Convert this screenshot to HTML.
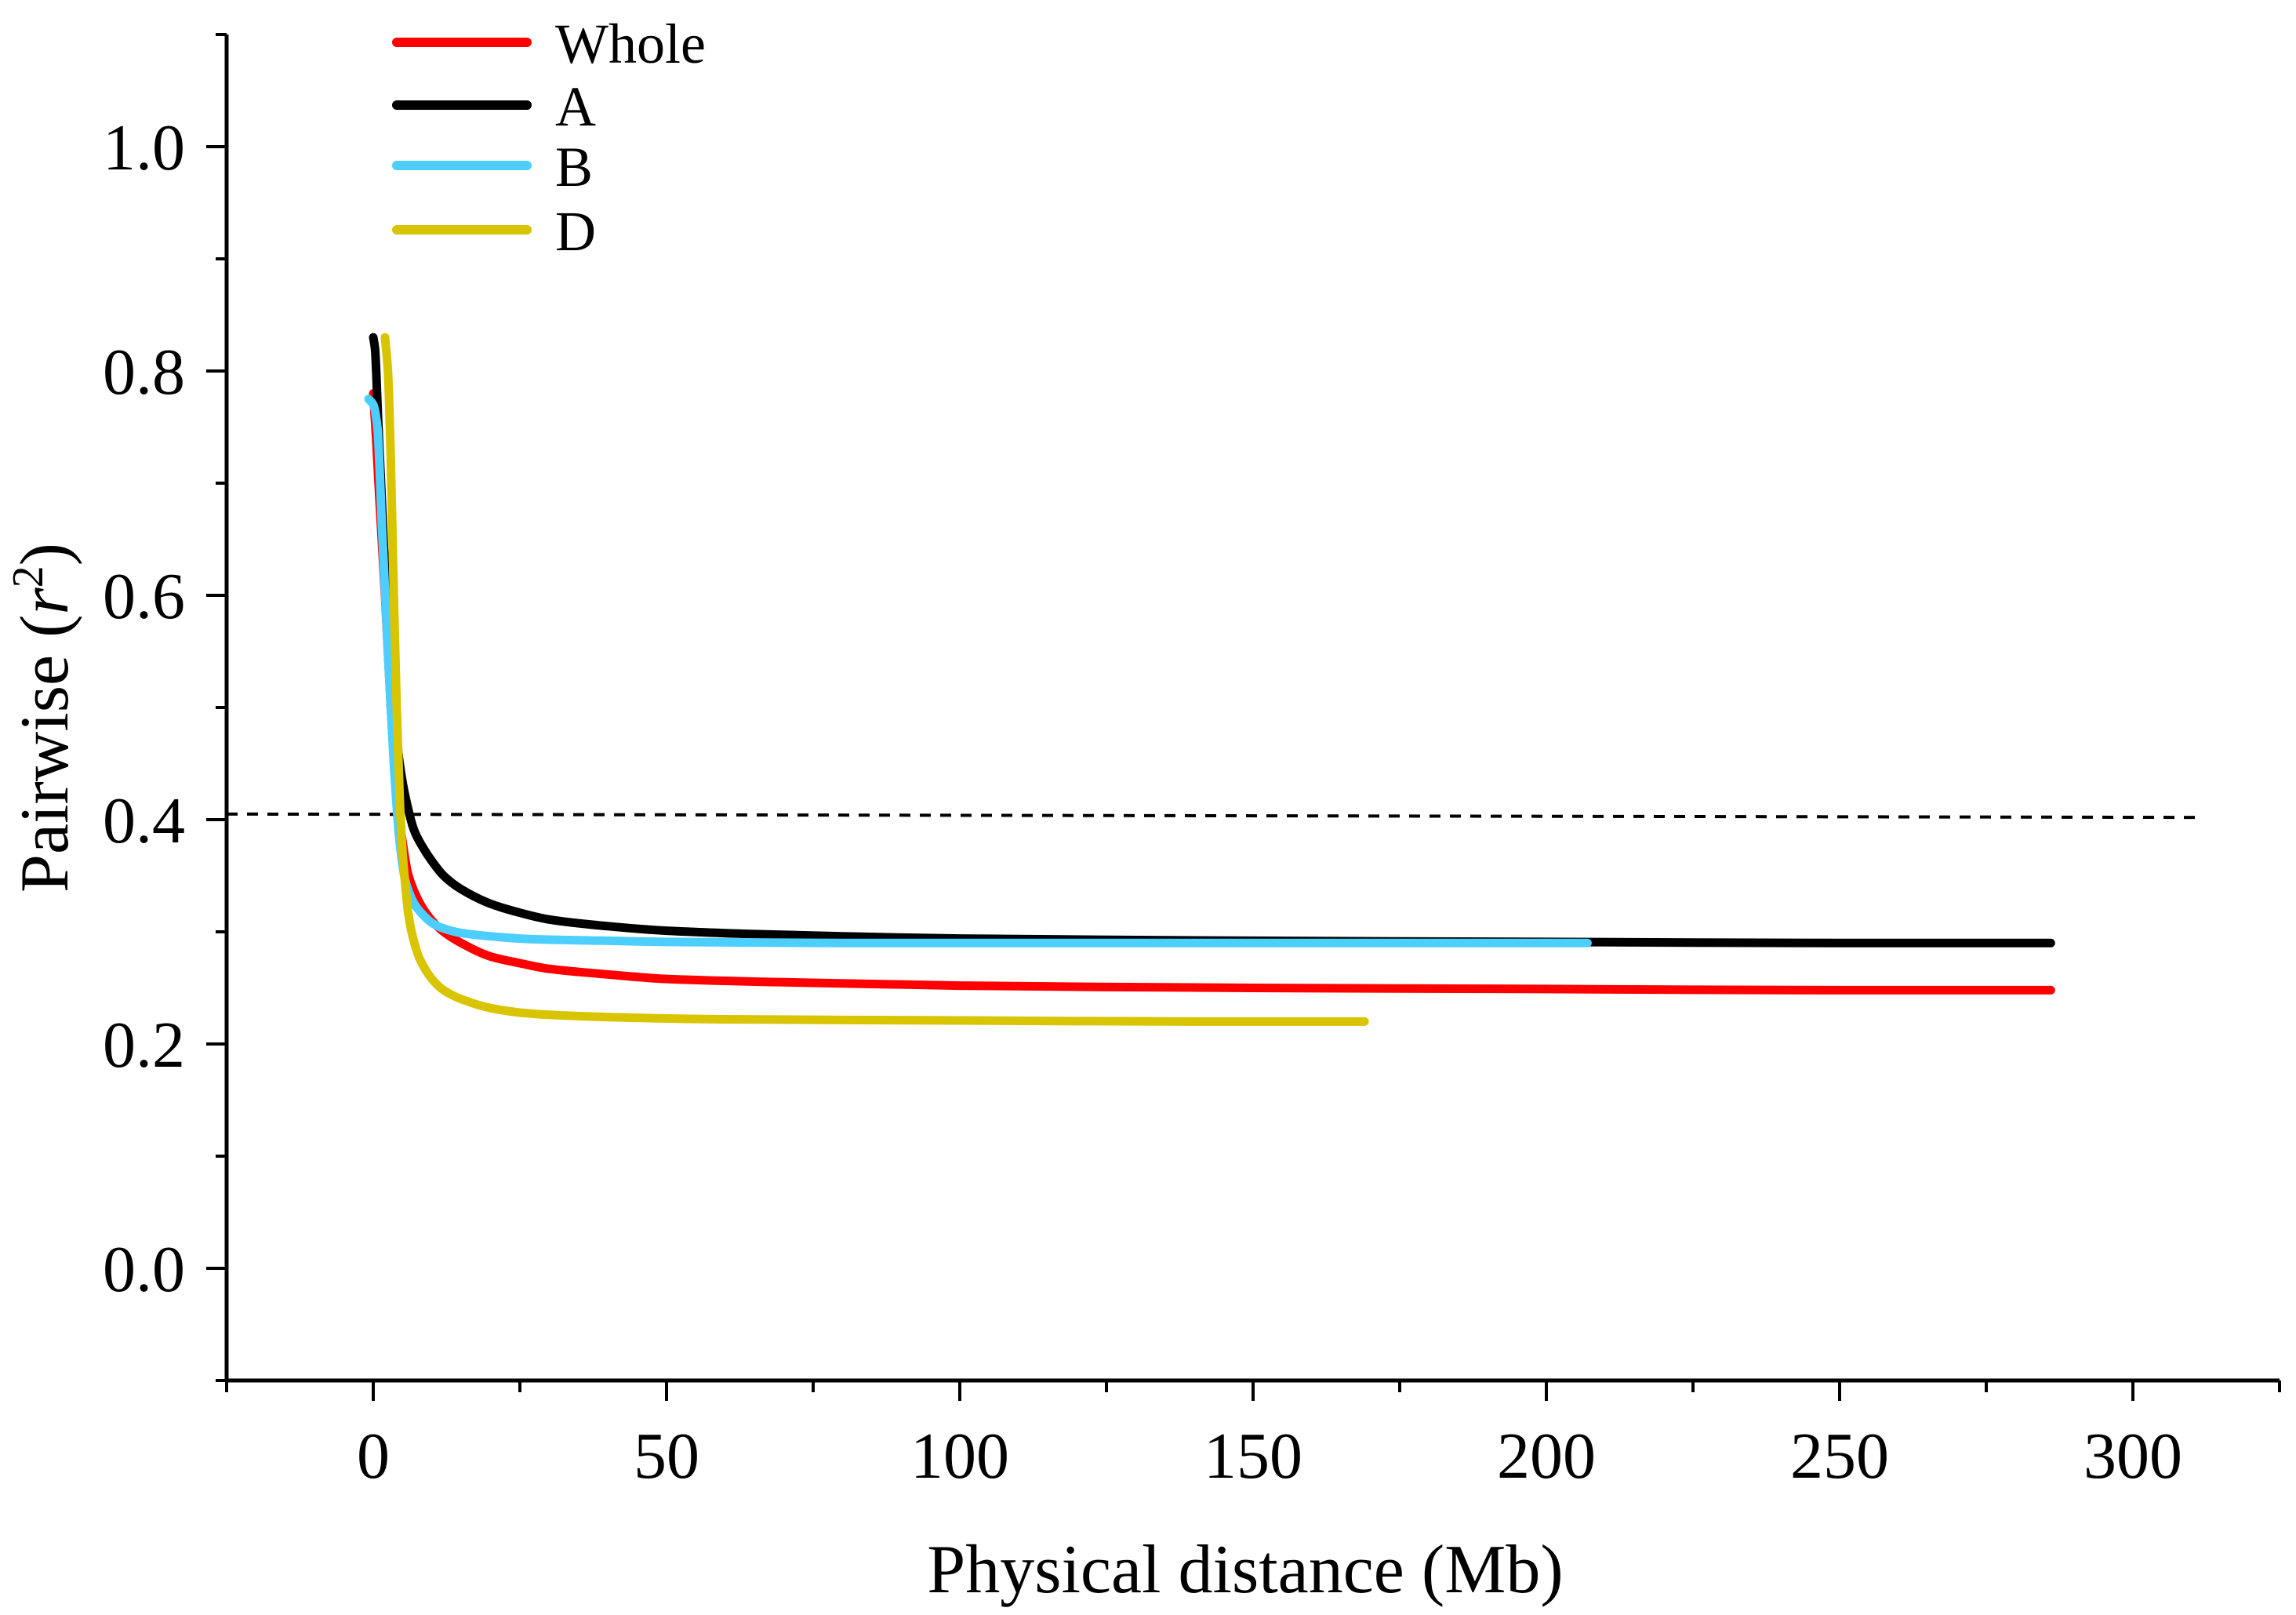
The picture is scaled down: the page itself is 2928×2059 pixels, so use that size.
<!DOCTYPE html>
<html><head><meta charset="utf-8"><style>
html,body{margin:0;padding:0;background:#fff}
svg{display:block}
text{font-family:"Liberation Serif",serif;fill:#000}
</style></head><body>
<svg id="chart" width="2928" height="2059" viewBox="0 0 2928 2059" xmlns="http://www.w3.org/2000/svg">
<g id="axes"></g>
<g id="series"></g>
<g id="legend"></g>
</svg>
<script>
const xTicks=[0,50,100,150,200,250,300];
const yTicks=[0.0,0.2,0.4,0.6,0.8,1.0];
const yTickLabels=["0.0","0.2","0.4","0.6","0.8","1.0"];
const thresholdStart=0.405;
const thresholdEnd=0.402;
const wholeX=[0,0.5,1,2,3,4,5,6,8,10,12,15,20,25,30,40,50,70,100,150,200,250,286];
const wholeY=[0.78,0.74,0.69,0.6,0.5,0.42,0.38,0.35,0.325,0.31,0.3,0.29,0.278,0.272,0.267,0.262,0.258,0.255,0.252,0.25,0.249,0.248,0.248];
const aX=[0,0.3,0.8,1.5,2.5,3.5,4.5,5.5,7,8.5,10,12,15,20,25,30,40,50,65,80,100,150,200,250,286];
const aY=[0.83,0.82,0.76,0.68,0.57,0.5,0.45,0.42,0.39,0.375,0.363,0.35,0.338,0.325,0.317,0.311,0.305,0.301,0.298,0.296,0.294,0.292,0.291,0.29,0.29];
const bX=[-0.8,0,0.7,1.5,2.5,3.5,4.5,5.5,7,8.5,10,12,15,20,25,30,40,50,80,120,160,207];
const bY=[0.775,0.77,0.75,0.66,0.55,0.45,0.38,0.345,0.325,0.315,0.308,0.303,0.299,0.296,0.294,0.293,0.292,0.291,0.29,0.29,0.29,0.29];
const dX=[2,2.5,3,3.5,4,4.5,5,5.5,6,7,8,10,12,15,20,25,30,40,60,100,140,169];
const dY=[0.83,0.8,0.72,0.6,0.5,0.42,0.37,0.34,0.315,0.29,0.275,0.258,0.248,0.24,0.232,0.228,0.226,0.224,0.222,0.221,0.22,0.22];
const seriesNames=["Whole","A","B","D"];
const seriesColors=["#ff0000","#000000","#4ccfff","#d9c400"];

const NS="http://www.w3.org/2000/svg";
const X=m=>476+7.48*m;
const Y=v=>1617-1430*v;
function mk(tag,parent,attrs){const e=document.createElementNS(NS,tag);for(const k in attrs)e.setAttribute(k,attrs[k]);parent.appendChild(e);return e;}
function monoPath(px,py){
  const n=px.length;const d=[],m=new Array(n);
  for(let i=0;i<n-1;i++)d.push((py[i+1]-py[i])/(px[i+1]-px[i]));
  m[0]=d[0];m[n-1]=d[n-2];
  for(let i=1;i<n-1;i++){m[i]=(d[i-1]*d[i]<=0)?0:(2/(1/d[i-1]+1/d[i]));}
  let s='M'+px[0].toFixed(1)+','+py[0].toFixed(1);
  for(let i=0;i<n-1;i++){const h=px[i+1]-px[i];
    s+=' C'+(px[i]+h/3).toFixed(1)+','+(py[i]+m[i]*h/3).toFixed(1)+' '+(px[i+1]-h/3).toFixed(1)+','+(py[i+1]-m[i+1]*h/3).toFixed(1)+' '+px[i+1].toFixed(1)+','+py[i+1].toFixed(1);}
  return s;
}
const axes=document.getElementById('axes');
const series=document.getElementById('series');
const legend=document.getElementById('legend');

let l=mk('line',axes,{x1:X(-25),y1:Y(-0.1),x2:X(325),y2:Y(-0.1),stroke:'#000','stroke-width':5});

l=mk('line',axes,{x1:X(-25),y1:Y(-0.1)+2,x2:X(-25),y2:Y(1.1),stroke:'#000','stroke-width':5});

for(let m=-25;m<=325;m+=25){
  const major=xTicks.includes(m);
  const t=mk('line',axes,{x1:X(m),y1:Y(-0.1),x2:X(m),y2:Y(-0.1)+(major?26:15),stroke:'#000','stroke-width':4});
  
}
xTicks.forEach(v=>{
  const t=mk('text',axes,{x:X(v),y:1884,'font-size':84,'text-anchor':'middle'});t.textContent=String(v);
  
});
for(let i=-1;i<=11;i++){
  const v=i/10;const major=i>=0&&i%2===0&&i<=10;
  const t=mk('line',axes,{x1:X(-25),y1:Y(v),x2:X(-25)-(major?26:14),y2:Y(v),stroke:'#000','stroke-width':4});
  
}
yTicks.forEach((v,i)=>{
  const t=mk('text',axes,{x:236,y:Y(v)+29,'font-size':84,'text-anchor':'end'});t.textContent=yTickLabels[i];
  
});
let tt=mk('text',axes,{x:1588,y:2030,'font-size':88,'text-anchor':'middle'});tt.textContent='Physical distance (Mb)';

tt=mk('text',axes,{x:0,y:0,'font-size':88,'text-anchor':'middle',transform:'translate(86,915) rotate(-90)'});
tt.innerHTML='Pairwise (<tspan font-style="italic">r</tspan><tspan dy="-32" font-size="56">2</tspan><tspan dy="32">)</tspan>';


l=mk('line',axes,{x1:X(-25),y1:Y(thresholdStart),x2:X(312),y2:Y(thresholdEnd),stroke:'#000','stroke-width':4,'stroke-dasharray':'14 12'});


const allX=[wholeX,aX,bX,dX],allY=[wholeY,aY,bY,dY];
[0,1,2,3].forEach(i=>{
  const px=allX[i].map(X),py=allY[i].map(Y);
  const p=mk('path',series,{d:monoPath(px,py),fill:'none',stroke:seriesColors[i],'stroke-width':11,'stroke-linejoin':'round','stroke-linecap':'round'});
  
  
});
const legY=[54,134,211,293];
seriesNames.forEach((n,i)=>{
  const g=mk('g',legend,{});
  
  
  mk('line',g,{x1:506,y1:legY[i],x2:672,y2:legY[i],stroke:seriesColors[i],'stroke-width':12,'stroke-linecap':'round'});
  const t=mk('text',g,{x:708,y:legY[i]+26,'font-size':72});t.textContent=n;
});
</script>
</body></html>
